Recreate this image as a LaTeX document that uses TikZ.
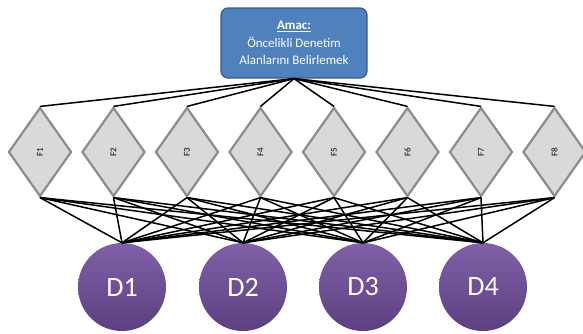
\documentclass[tikz,border=0pt]{standalone}
\usepackage{fontspec}
\setmainfont{Carlito}
\usetikzlibrary{shapes.geometric}
\definecolor{goalfill}{HTML}{4F81BD}
\definecolor{goaldraw}{HTML}{385D8A}
\definecolor{fillF}{HTML}{D9D9D9}
\definecolor{drawF}{HTML}{8C8C8C}
\definecolor{purpTop}{HTML}{8060A8}
\definecolor{purpBot}{HTML}{5C4080}
\tikzset{
  goalbox/.style={draw=goaldraw, line width=1.2pt, fill=goalfill, rounded corners=7pt,
    minimum width=146pt, minimum height=70pt, text=white, align=center, font=\fontsize{13}{17.5}\selectfont, inner sep=0pt},
  fbox/.style={diamond, draw=drawF, line width=2.2pt, fill=fillF, minimum width=63pt, minimum height=89pt, inner sep=0pt,
    font=\fontsize{9}{10}\selectfont\bfseries, text=black!75},
  dcircle/.style={circle, minimum size=88pt, inner sep=0pt, top color=purpTop, bottom color=purpBot, draw=none,
    text=white, font=\fontsize{28}{30}\selectfont},
  link/.style={draw=black, line width=1.5pt},
}
\begin{document}
\begin{tikzpicture}[x=1pt,y=-1pt]
\useasboundingbox (0,0) rectangle (583,333);
\node[goalbox] (goal) at (294,43) {\textbf{\underline{Amac:}}\\Öncelikli Denetim\\Alanlarını Belirlemek};
\foreach \i/\x in {1/40,2/113.5,3/187,4/260.5,5/334,6/407.5,7/481,8/554.5} {
  \node[fbox] (F\i) at (\x,152) {\rotatebox{90}{F\i}};
}
\foreach \i/\x in {1/122,2/243,3/363,4/483} {
  \node[dcircle] (D\i) at (\x,287) {D\i};
}
\foreach \i in {1,...,8} {
  \draw[link] (goal.south) -- (F\i.north);
  \foreach \j in {1,...,4} {
    \draw[link] (F\i.south) -- (D\j.north);
  }
}
\end{tikzpicture}
\end{document}
